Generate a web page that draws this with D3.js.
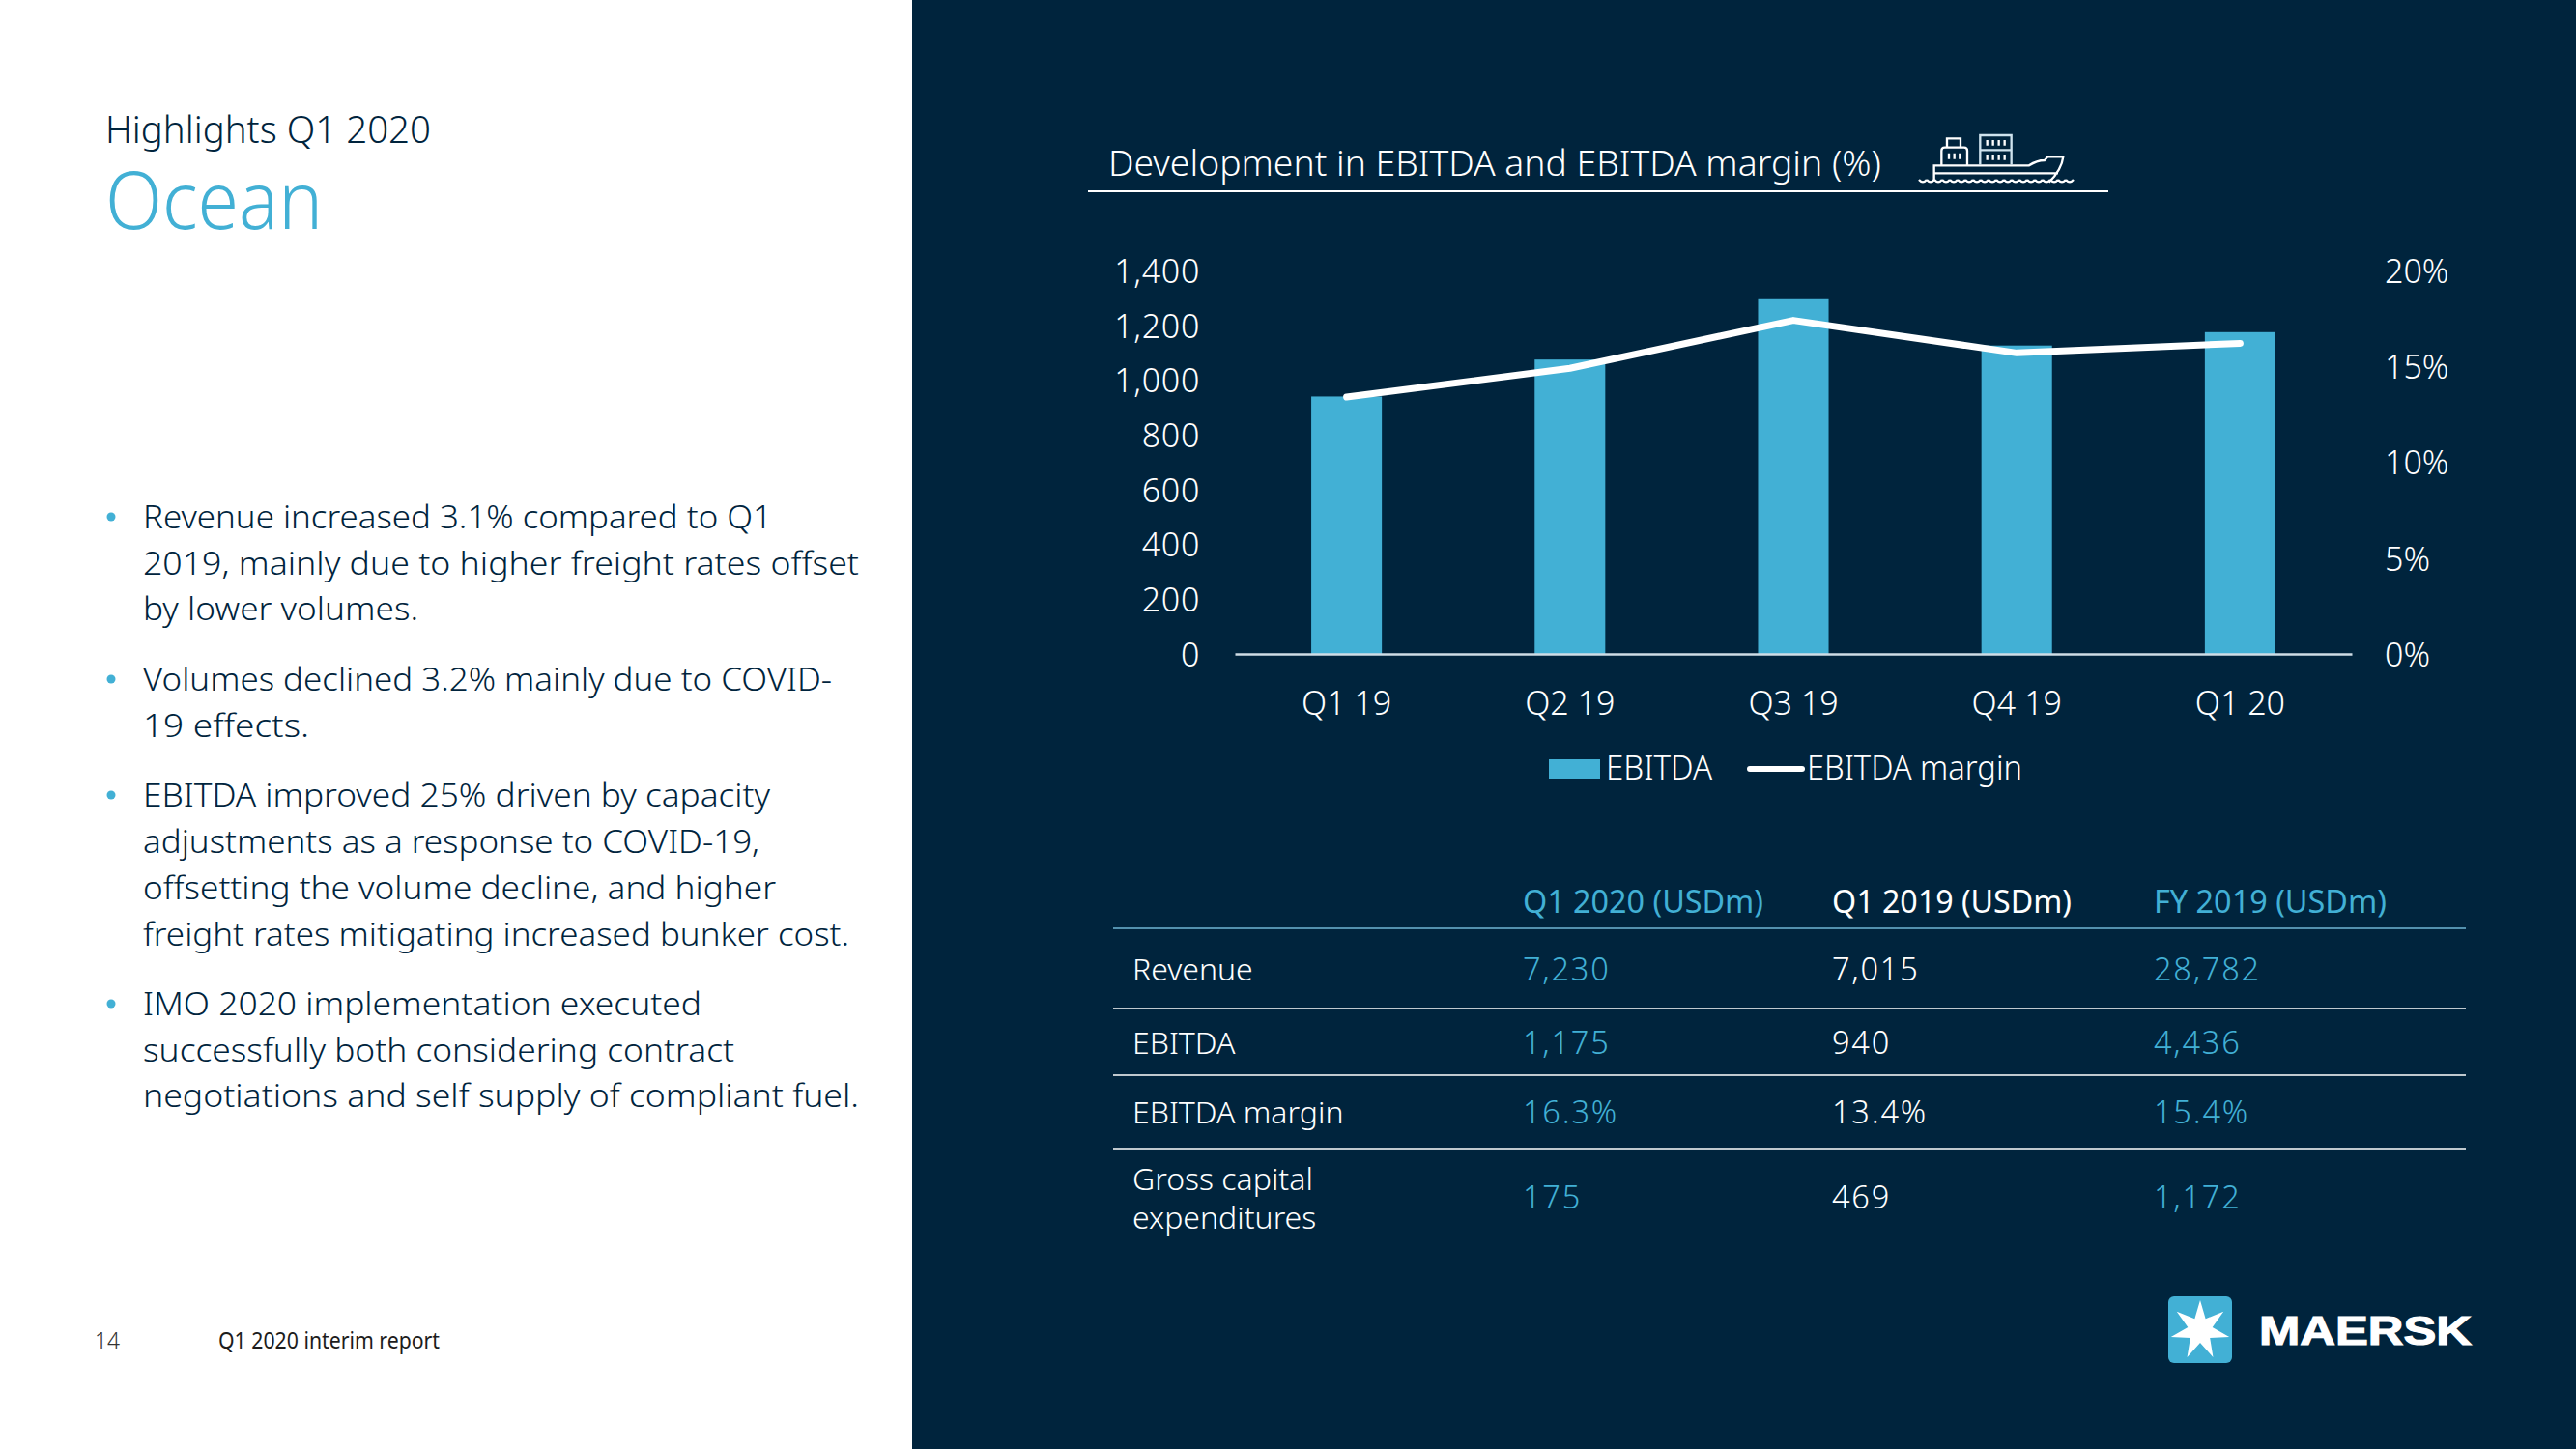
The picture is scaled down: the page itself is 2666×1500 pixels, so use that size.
<!DOCTYPE html>
<html>
<head>
<meta charset="utf-8">
<script src="https://cdn.jsdelivr.net/npm/d3@7"></script>
<style>
  html, body { margin: 0; padding: 0; background: #fff; }
  svg { display: block; }
  text { font-family: "Noto Sans", sans-serif; font-weight: 300; }
</style>
</head>
<body>
<div id="chart"></div>
<script>
// chart values
const quarters = ["Q1 19", "Q2 19", "Q3 19", "Q4 19", "Q1 20"];
const ebitda = [940, 1075, 1295, 1126, 1175];
const margin = [13.4, 14.9, 17.4, 15.7, 16.2];
const ebitdaTicks = [0, 200, 400, 600, 800, 1000, 1200, 1400];
const marginTicks = [0, 5, 10, 15, 20];

// table
const columnHeads = ["Q1 2020 (USDm)", "Q1 2019 (USDm)", "FY 2019 (USDm)"];
const rowLabels = ["Revenue", "EBITDA", "EBITDA margin", "Gross capital|expenditures"];
const q1_2020 = ["7,230", "1,175", "16.3%", "175"];
const q1_2019 = ["7,015", "940", "13.4%", "469"];
const fy_2019 = ["28,782", "4,436", "15.4%", "1,172"];

// left hand text
const bullets = [
  ["Revenue increased 3.1% compared to Q1", "2019, mainly due to higher freight rates offset", "by lower volumes."],
  ["Volumes declined 3.2% mainly due to COVID-", "19 effects."],
  ["EBITDA improved 25% driven by capacity", "adjustments as a response to COVID-19,", "offsetting the volume decline, and higher", "freight rates mitigating increased bunker cost."],
  ["IMO 2020 implementation executed", "successfully both considering contract", "negotiations and self supply of compliant fuel."]
];
const bulletWidths = [[651, 741, 285], [713, 172], [649, 638, 655, 731], [578, 612, 741]];
const bulletY = [[547, 595, 642], [715, 763], [835, 883, 931, 979], [1051, 1099, 1146]];

const navy = "#00243d";
const blue = "#42b0d5";

const svg = d3.select("#chart").append("svg")
    .attr("width", 2666)
    .attr("height", 1500);

svg.append("rect").attr("width", 2666).attr("height", 1500).attr("fill", "#fff");
svg.append("rect").attr("x", 944).attr("width", 1722).attr("height", 1500).attr("fill", navy);

// small helper, text at a spot and squeezed to the width
function label(x, y, str, size, fill, width) {
  const t = svg.append("text")
      .attr("x", x)
      .attr("y", y)
      .attr("font-size", size)
      .attr("fill", fill)
      .text(str);
  if (width) t.attr("textLength", width).attr("lengthAdjust", "spacingAndGlyphs");
  return t;
}

// left panel
label(109, 148, "Highlights Q1 2020", 39, navy, 337);
label(109, 237, "Ocean", 82, blue, 225);

bullets.forEach((lines, i) => {
  svg.append("circle")
      .attr("cx", 115)
      .attr("cy", bulletY[i][0] - 12)
      .attr("r", 4.5)
      .attr("fill", blue);
  lines.forEach((line, j) => {
    label(148, bulletY[i][j], line, 33.5, navy, bulletWidths[i][j]);
  });
});

label(98, 1396, "14", 24, "#333", 26);
label(226, 1396, "Q1 2020 interim report", 23, "#1c1c1c", 229).style("font-weight", 400);

// chart title
label(1147, 182, "Development in EBITDA and EBITDA margin (%)", 37, "#fff", 800);
svg.append("line")
    .attr("x1", 1126).attr("x2", 2182)
    .attr("y1", 198).attr("y2", 198)
    .attr("stroke", "#fff").attr("stroke-width", 2);

// ship icon, drawn on a 3x grid
const ship = svg.append("g")
    .attr("transform", "translate(1960,130) scale(0.3333)")
    .attr("fill", "none")
    .attr("stroke", "#fff")
    .attr("stroke-width", 7);
ship.append("path").attr("d", "M125 172V124H420C438 112 450 108 468 108L478 97H526C522 128 508 150 482 176M125 148H510");
ship.append("path").attr("d", "M148 124V78Q148 68 158 68H218Q228 68 228 78V124M165 68V40H207V68");
ship.append("path").attr("d", "M171 86V104M188 86V104M205 86V104");
ship.append("path").attr("d", "M268 122V30H365V122M268 76H365").attr("stroke", "#cfe3ee");
ship.append("path").attr("d", "M290 45V62M308 45V62M326 45V62M344 45V62M290 90V107M308 90V107M326 90V107M344 90V107");
const wave = d3.range(78, 558, 24).map(x => `M${x} 168q12 14 24 0`).join("");
ship.append("path").attr("d", wave);

// scales
const x = d3.scaleBand()
    .domain(quarters)
    .range([1278, 2434])
    .paddingInner(0.684)
    .paddingOuter(0.342);
const yLeft = d3.scaleLinear().domain([0, 1400]).range([677, 280]);
const yRight = d3.scaleLinear().domain([0, 20]).range([677, 280]);

// bars
svg.selectAll(".bar")
    .data(ebitda)
    .enter().append("rect")
    .attr("class", "bar")
    .attr("x", (d, i) => x(quarters[i]))
    .attr("y", d => yLeft(d))
    .attr("width", x.bandwidth())
    .attr("height", d => yLeft(0) - yLeft(d))
    .attr("fill", blue);

// axes
const leftAxis = svg.append("g")
    .attr("transform", "translate(1242,1.5)")
    .call(d3.axisLeft(yLeft).tickValues(ebitdaTicks).tickSize(0).tickPadding(0).tickFormat(d3.format(",")));
const rightAxis = svg.append("g")
    .attr("transform", "translate(2468,1.5)")
    .call(d3.axisRight(yRight).tickValues(marginTicks).tickSize(0).tickPadding(0).tickFormat(d => d + "%"));
const bottomAxis = svg.append("g")
    .attr("transform", "translate(0,677)")
    .call(d3.axisBottom(x).tickSize(0).tickPadding(39));
leftAxis.select(".domain").remove();
rightAxis.select(".domain").remove();
bottomAxis.select(".domain").attr("stroke", "#cfdde6").attr("stroke-width", 2.5);
svg.selectAll(".tick text")
    .attr("font-size", 34)
    .attr("fill", "#fff")
    .style("font-family", '"Noto Sans", sans-serif')
    .style("font-weight", 300);
leftAxis.selectAll(".tick text").style("letter-spacing", "0.7px");

// margin line
const marginLine = d3.line()
    .x((d, i) => x(quarters[i]) + x.bandwidth() / 2)
    .y(d => yRight(d));
svg.append("path")
    .datum(margin)
    .attr("fill", "none")
    .attr("stroke", "#fff")
    .attr("stroke-width", 7)
    .attr("stroke-linecap", "round")
    .attr("stroke-linejoin", "round")
    .attr("d", marginLine);

// legend
svg.append("rect").attr("x", 1603).attr("y", 786).attr("width", 53).attr("height", 20).attr("fill", blue);
label(1662, 807, "EBITDA", 34, "#fff", 110);
svg.append("line")
    .attr("x1", 1811).attr("x2", 1865)
    .attr("y1", 796).attr("y2", 796)
    .attr("stroke", "#fff").attr("stroke-width", 6).attr("stroke-linecap", "round");
label(1870, 807, "EBITDA margin", 34, "#fff", 223);

// table
const columnX = [1576, 1896, 2229];
const columnWidths = [249, 248, 241];
const columnFill = [blue, "#fff", blue];
const rowY = [1015, 1091, 1163, 1251];
const ruleY = [1044, 1113, 1189];

columnHeads.forEach((h, i) => {
  label(columnX[i], 945, h, 33, columnFill[i], columnWidths[i]).style("font-weight", 400);
});
svg.append("line")
    .attr("x1", 1152).attr("x2", 2552)
    .attr("y1", 961).attr("y2", 961)
    .attr("stroke", "#6fb6d4").attr("stroke-width", 1.6);
ruleY.forEach(y => {
  svg.append("line")
      .attr("x1", 1152).attr("x2", 2552)
      .attr("y1", y).attr("y2", y)
      .attr("stroke", "#fff").attr("stroke-width", 1.6);
});

rowLabels.forEach((r, i) => {
  const parts = r.split("|");
  if (parts.length > 1) {
    label(1172, 1232, parts[0], 32, "#fff");
    label(1172, 1272, parts[1], 32, "#fff");
  } else {
    label(1172, rowY[i], r, 32, "#fff");
  }
});
[q1_2020, q1_2019, fy_2019].forEach((col, c) => {
  col.forEach((v, i) => {
    label(columnX[c], rowY[i], v, 32.5, columnFill[c]).style("letter-spacing", "1.8px");
  });
});

// logo
svg.append("rect")
    .attr("x", 2244).attr("y", 1342)
    .attr("width", 66).attr("height", 69)
    .attr("rx", 6)
    .attr("fill", blue);
const starPoints = d3.range(14).map(i => {
  const r = i % 2 ? 13 : 31;
  const a = i * Math.PI / 7;
  return [2277 + r * Math.sin(a), 1377 - r * Math.cos(a)];
});
svg.append("path")
    .attr("d", d3.line()(starPoints) + "Z")
    .attr("fill", "#fff");
label(2338, 1392, "MAERSK", 43, "#fff", 220)
    .style("font-family", '"Liberation Sans", sans-serif')
    .style("font-weight", 700)
    .attr("stroke", "#fff")
    .attr("stroke-width", 1.2);
</script>
</body>
</html>
